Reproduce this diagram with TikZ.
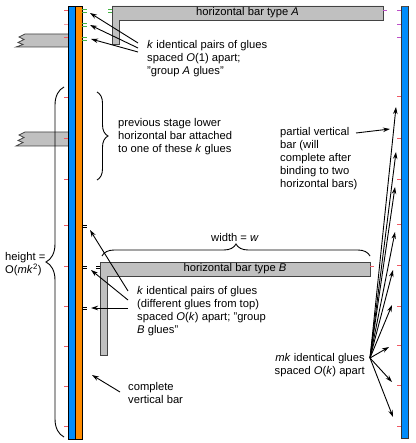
\documentclass[tikz,border=0pt]{standalone}
\usepackage{fontspec}
\setmainfont{Liberation Sans}
\usetikzlibrary{arrows.meta,decorations.pathreplacing}

\definecolor{barblue}{RGB}{0,140,250}
\definecolor{barorange}{RGB}{255,140,0}
\definecolor{bargray}{RGB}{192,192,192}
\definecolor{gluegreen}{RGB}{70,180,70}
\definecolor{gluepink}{RGB}{240,90,100}
\definecolor{gluemag}{RGB}{190,80,200}

\tikzset{
  bar/.style={fill=bargray, draw=bargray!35!black, line width=0.8pt},
  txt/.style={font=\fontsize{11.2}{13}\selectfont, inner sep=0pt, align=left},
  arr/.style={-{Stealth[length=7pt,width=4.5pt]}, line width=0.9pt},
  brc/.style={decorate, decoration={brace, amplitude=#1}, line width=0.9pt},
  tick/.style={line width=0.9pt}
}

\begin{document}
\begin{tikzpicture}[x=1pt,y=-1pt]
\useasboundingbox (0,0) rectangle (415,443);

% bars coming in from the left
\filldraw[bar] (68,34) -- (25,34) -- (19,37) -- (24,39.5) -- (18,42.5) -- (23,44.5) -- (16,47) -- (68,47);
\filldraw[bar] (68,132) -- (25,132) -- (19,135) -- (24,137.5) -- (18,140.5) -- (23,142.5) -- (16,146) -- (68,146);

% horizontal bars
\filldraw[bar] (112,6) -- (383,6) -- (383,20) -- (119,20) -- (119,44) -- (112,44) -- cycle;
\node[txt] (labelA) at (247.5,13) {horizontal bar type \textit{A}};
\filldraw[bar] (100,262) -- (370,262) -- (370,276) -- (107,276) -- (107,355) -- (100,355) -- cycle;
\node[txt] (labelB) at (235,269) {horizontal bar type \textit{B}};

% vertical bars
\filldraw[fill=barblue, draw=black, line width=0.7pt] (68,6) rectangle (75.5,439);
\filldraw[fill=barorange, draw=black, line width=0.7pt] (75.5,6) rectangle (82,439);
\filldraw[fill=barblue, draw=black!80, line width=0.7pt] (401,6) rectangle (408,438);
\draw[black!70, line width=1.5pt] (401,6.5) -- (408,6.5);

% glues
\foreach \y in {10,37,97,138,179,225,266,306,346,386,426}
  \draw[tick, gluepink] (64,\y) -- (68,\y);
\draw[tick, gluepink!60] (64,24) -- (68,24);
\foreach \y in {96,138,179,224,265,306,345,385,426}
  \draw[tick, gluepink] (397,\y) -- (401,\y);
\foreach \y in {10,24,37}
  \draw[tick, gluemag] (397,\y) -- (401,\y);
\draw[tick, gluemag] (383,10) -- (387,10);
\draw[tick, gluepink] (370,266) -- (374,266);
\foreach \y in {11,25,39}
  \draw[gluegreen, line width=0.6pt] (82,\y-1.2) -- (87,\y-1.2) (82,\y+1.2) -- (87,\y+1.2);
\draw[gluegreen, line width=0.6pt] (108,9.8) -- (112,9.8) (108,12.2) -- (112,12.2);
\foreach \y in {226,267,308}
  \draw[line width=0.6pt] (82,\y-1.2) -- (87,\y-1.2) (82,\y+1.2) -- (87,\y+1.2);
\draw[line width=0.6pt] (96,265.8) -- (100,265.8) (96,268.2) -- (100,268.2);

% braces
\draw[brc=18pt] (64,437) -- (64,87);
\draw[brc=11pt] (97,92) -- (97,180);
\draw[brc=12pt] (102,256) -- (370,256);

% texts
\node[txt, anchor=north west] (groupA) at (147,40) {\textit{k} identical pairs of glues\\spaced \textit{O}(1) apart;\\"group \textit{A} glues"};
\node[txt, anchor=north west] (prevStage) at (118,118) {previous stage lower\\horizontal bar attached\\to one of these \textit{k} glues};
\node[txt, anchor=north west] (partial) at (280,127) {partial vertical\\bar (will\\complete after\\binding to two\\horizontal bars)};
\node[txt] (width) at (235,237) {width = \textit{w}};
\node[txt, anchor=north west] (height) at (5,252) {height =\\O(\textit{mk}\textsuperscript{2})};
\node[txt, anchor=north west] (groupB) at (137,286) {\textit{k} identical pairs of glues\\(different glues from top)\\spaced \textit{O}(\textit{k}) apart; "group\\\textit{B} glues"};
\node[txt, anchor=north east, align=right] (mkGlues) at (365,353) {\textit{mk} identical glues\\spaced \textit{O}(\textit{k}) apart};
\node[txt, anchor=north west] (complete) at (128,382) {complete\\vertical bar};

% arrow ends
\coordinate (tA1) at (138,43); \coordinate (gA1) at (90,13);
\coordinate (tA2) at (138,48); \coordinate (gA2) at (90,25);
\coordinate (tA3) at (138,52); \coordinate (gA3) at (91,39);
\coordinate (tB1) at (128,291); \coordinate (gB1) at (90,230);
\coordinate (tB2) at (128,300); \coordinate (gB2) at (91,270);
\coordinate (tB3) at (128,308); \coordinate (gB3) at (91,308);
\coordinate (tC) at (120,392); \coordinate (gC) at (92,375);
\coordinate (tP) at (356,133); \coordinate (gP) at (390,129);
\coordinate (fan) at (370,358);
\foreach \x/\y [count=\i] in {396/107,396/152,395/187,395/232,393/270,392/305,389/347,392/382,393/417}
  \coordinate (f\i) at (\x,\y);

% arrows
\foreach \i in {1,2,3} {
  \draw[arr] (tA\i) -- (gA\i);
  \draw[arr] (tB\i) -- (gB\i);
}
\draw[arr] (tC) -- (gC);
\draw[arr] (tP) -- (gP);
\foreach \i in {1,...,9}
  \draw[arr] (fan) -- (f\i);
\end{tikzpicture}
\end{document}
